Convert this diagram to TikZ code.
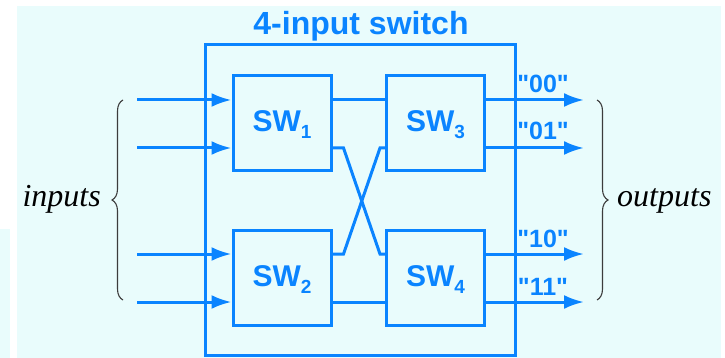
\documentclass[tikz,border=0pt]{standalone}
\usepackage{fontspec}
\setmainfont{Liberation Serif}
\setsansfont{Liberation Sans}
\usetikzlibrary{arrows.meta,decorations.pathreplacing}
\definecolor{bgcyan}{RGB}{233,252,252}
\definecolor{swblue}{RGB}{10,132,255}
\definecolor{bracegray}{RGB}{60,60,60}
\newcommand{\swsub}[1]{\raisebox{-7pt}{\fontsize{19}{19}\selectfont #1}}
\newcommand{\qq}[1]{\textquotedbl#1\textquotedbl}
\begin{document}
\begin{tikzpicture}[x=1pt,y=-1pt,
  wire/.style={draw=swblue,line width=3pt},
  arr/.style={wire,-{Latex[length=20pt,width=14pt]}},
  swbox/.style={draw=swblue,line width=3pt,minimum width=98pt,minimum height=95pt,inner sep=0pt},
  outerbox/.style={draw=swblue,line width=3pt,minimum width=310pt,minimum height=310pt,inner sep=0pt},
  swlabel/.style={text=swblue,font=\sffamily\bfseries\fontsize{30}{30}\selectfont,inner sep=0pt},
  outlabel/.style={text=swblue,font=\sffamily\bfseries\fontsize{25}{25}\selectfont,inner sep=0pt},
  titlelabel/.style={text=swblue,font=\sffamily\bfseries\fontsize{32}{32}\selectfont,inner sep=0pt},
  sidelabel/.style={text=black,font=\itshape\fontsize{32}{32}\selectfont,inner sep=0pt},
  bracedeco/.style={draw=bracegray,line width=1.1pt,decorate,decoration={brace,amplitude=11pt}}
]
\useasboundingbox (0,0) rectangle (725,358);
\fill[white] (0,0) rectangle (725,358);
\fill[bgcyan] (17,6) rectangle (721,358);
\fill[bgcyan] (0,229) rectangle (10,358);

% outer box and title
\node[outerbox] (outer) at (360,200) {};
\node[titlelabel,anchor=base] (title) at (361,35) {4-input switch};

% switches
\node[swbox] (sw1) at (282,123.5) {};
\node[swbox] (sw3) at (435.5,123.5) {};
\node[swbox] (sw2) at (282,277.5) {};
\node[swbox] (sw4) at (435.5,277.5) {};
\node[swlabel,anchor=base] (sw1t) at (282,132) {SW\swsub{1}};
\node[swlabel,anchor=base] (sw3t) at (435.5,132) {SW\swsub{3}};
\node[swlabel,anchor=base] (sw2t) at (282,286) {SW\swsub{2}};
\node[swlabel,anchor=base] (sw4t) at (435.5,286) {SW\swsub{4}};

% input coordinates
\coordinate (in1) at (137,100);
\coordinate (in2) at (137,148);
\coordinate (in3) at (137,254);
\coordinate (in4) at (137,302);
\coordinate (out1) at (584,100);
\coordinate (out2) at (584,148);
\coordinate (out3) at (584,254);
\coordinate (out4) at (584,302);

% inputs
\draw[arr] (in1) -- (sw1.west |- in1);
\draw[arr] (in2) -- (sw1.west |- in2);
\draw[arr] (in3) -- (sw2.west |- in3);
\draw[arr] (in4) -- (sw2.west |- in4);

% internal wiring
\draw[wire] (sw1.east |- in1) -- (sw3.west |- in1);
\draw[wire] (sw2.east |- in4) -- (sw4.west |- in4);
\draw[wire] (sw1.east |- in2) -- ++(11,0) -- (380,254) -- (sw4.west |- in3);
\draw[wire] (sw2.east |- in3) -- ++(11,0) -- (380,148) -- (sw3.west |- in2);

% outputs
\draw[arr] (sw3.east |- out1) -- (out1);
\draw[arr] (sw3.east |- out2) -- (out2);
\draw[arr] (sw4.east |- out3) -- (out3);
\draw[arr] (sw4.east |- out4) -- (out4);

\node[outlabel,anchor=base] (l00) at (543,93) {\qq{00}};
\node[outlabel,anchor=base] (l01) at (543,140) {\qq{01}};
\node[outlabel,anchor=base] (l10) at (543,247) {\qq{10}};
\node[outlabel,anchor=base] (l11) at (543,295) {\qq{11}};

% braces
\coordinate (lb1) at (123,300);
\coordinate (lb2) at (123,100);
\coordinate (rb1) at (597,100);
\coordinate (rb2) at (597,300);
\draw[bracedeco] (lb1) -- (lb2);
\draw[bracedeco] (rb1) -- (rb2);
\node[sidelabel,anchor=base east] (inputs) at (101,207) {inputs};
\node[sidelabel,anchor=base west] (outputs) at (617,207) {outputs};
\end{tikzpicture}
\end{document}
